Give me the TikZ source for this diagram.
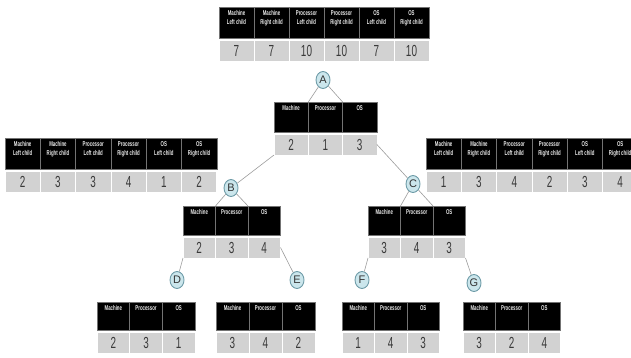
\documentclass[tikz,border=0pt]{standalone}
\usepackage{fontspec}
\setmainfont{Liberation Sans}
\newfontfamily\cellfont[FakeStretch=0.62]{Liberation Sans}
\usetikzlibrary{shapes.geometric,positioning}

\definecolor{valgray}{HTML}{D2D2D2}
\definecolor{valtext}{HTML}{3A3A3A}
\definecolor{nodefill}{HTML}{CBE6EC}
\definecolor{nodeline}{HTML}{6F9CA8}
\definecolor{linkgray}{HTML}{9C9C9C}

% #1 name, #2 x, #3 y, #4 cell width, #5 header height, #6 headers, #7 values
\newcommand{\celltable}[7]{%
  \foreach \hd [count=\i] in {#6} {
    \node[hcell, minimum width = #4pt, minimum height = #5pt] (#1h\i) at (#2+#4*\i-#4, #3) {};
    \node[htext, below = 3.5pt of #1h\i.north] (#1t\i) {\hd};
  }
  \foreach \val [count=\i] in {#7} {
    \node[vcell, minimum width = #4pt] (#1v\i) at (#2+#4*\i-#4, #3+#5+2) {\val};
  }
}

\begin{document}
\begin{tikzpicture} [
  x = 1pt, y = -1pt,
  hcell/.style = { anchor = north west, fill = black, draw = black!55, line width = 0.6pt, inner sep = 0, outer sep = 0 },
  htext/.style = { anchor = north, inner sep = 0, text = white!92!black, align = center, font = \cellfont\bfseries\fontsize{7}{8.5}\selectfont },
  vcell/.style = { anchor = north west, fill = valgray, draw = white, line width = 0.8pt, inner sep = 0, outer sep = 0, minimum height = 21pt, text = valtext, font = \cellfont\fontsize{16}{16}\selectfont },
  letter/.style = { ellipse, draw = nodeline, fill = nodefill, line width = 0.9pt, minimum width = 14pt, minimum height = 17pt, inner sep = 0, text = black!80, font = \fontsize{11}{11}\selectfont },
  link/.style = { draw = linkgray, line width = 0.6pt }
  ]

  \clip (0,0) rectangle (631,358);

  % child count tables
  \celltable{cntA}{219}{7}{35}{31}{Machine\\Left child, Machine\\Right child, Processor\\Left child, Processor\\Right child, OS\\Left child, OS\\Right child}{7, 7, 10, 10, 7, 10}
  \celltable{cntB}{5}{138}{35.3}{31}{Machine\\Left child, Machine\\Right child, Processor\\Left child, Processor\\Right child, OS\\Left child, OS\\Right child}{2, 3, 3, 4, 1, 2}
  \celltable{cntC}{426}{138}{35.3}{31}{Machine\\Left child, Machine\\Right child, Processor\\Left child, Processor\\Right child, OS\\Left child, OS\\Right child}{1, 3, 4, 2, 3, 4}

  % tree nodes
  \node[letter] (A) at (323,80) {A};
  \node[letter] (B) at (231,188) {B};
  \node[letter] (C) at (413,184) {C};
  \node[letter] (D) at (177,280) {D};
  \node[letter] (E) at (297,280) {E};
  \node[letter] (F) at (362,280) {F};
  \node[letter] (G) at (474,283) {G};

  \celltable{tabA}{274}{102}{34.3}{30}{Machine, Processor, OS}{2, 1, 3}
  \celltable{tabB}{183}{206}{32.5}{29}{Machine, Processor, OS}{2, 3, 4}
  \celltable{tabC}{368}{206}{32.5}{29}{Machine, Processor, OS}{3, 4, 3}
  \celltable{tabD}{97}{302}{32.7}{28}{Machine, Processor, OS}{2, 3, 1}
  \celltable{tabE}{216}{302}{33}{28}{Machine, Processor, OS}{3, 4, 2}
  \celltable{tabF}{342}{302}{32.5}{28}{Machine, Processor, OS}{1, 4, 3}
  \celltable{tabG}{463}{302}{32.5}{28}{Machine, Processor, OS}{3, 2, 4}

  % connectors
  \draw[link] (A) -- (tabAh1.north east);
  \draw[link] (A) -- (tabAh2.north east);
  \draw[link] (tabAv1.south west) -- (B);
  \draw[link] (tabAv3.east) -- (C);
  \draw[link] (B) -- (tabBh1.north east);
  \draw[link] (B) -- (tabBh2.north east);
  \draw[link] (C) -- (tabCh1.north east);
  \draw[link] (C) -- (tabCh2.north east);
  \draw[link] (tabBv1.south west) -- (D);
  \draw[link] (tabBv3.east) -- (E);
  \draw[link] (tabCv1.south west) -- (F);
  \draw[link] (tabCv3.south east) -- (G);
\end{tikzpicture}
\end{document}
